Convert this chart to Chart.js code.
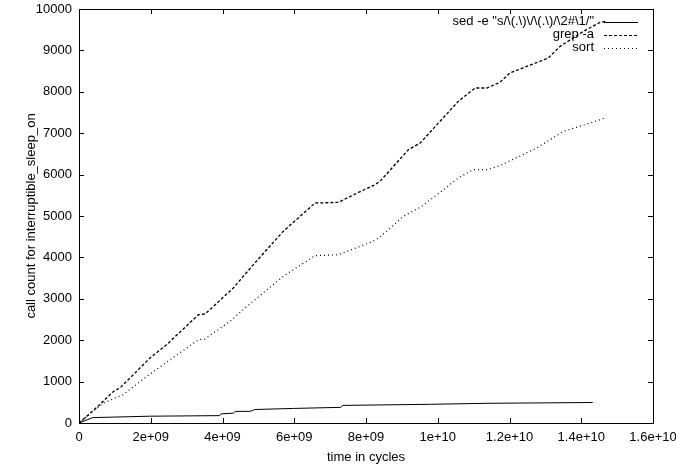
<!DOCTYPE html>
<html>
<head>
<meta charset="utf-8">
<script src="https://cdn.jsdelivr.net/npm/chart.js@4.4.1/dist/chart.umd.min.js"></script>
<style>
  html, body { margin: 0; padding: 0; background: #fff; }
  #wrap { width: 676px; height: 467px; }
</style>
</head>
<body>
<div id="wrap"><canvas id="myChart" width="676" height="467"></canvas></div>
<script>
const seriesLabels = ['sed -e "s/\\(.\\)\\/\\(.\\)/\\2#\\1/"', "grep -a", "sort"];

const sedX = [0, 0.38e9, 1.96e9, 3.92e9, 3.96e9, 4.3e9, 4.36e9, 4.78e9, 4.9e9, 5.98e9, 7.3e9, 7.35e9, 9.8e9, 11.4e9, 14.32e9];
const sedY = [0, 130, 164, 178, 220, 238, 279, 282, 326, 352, 378, 425, 452, 476, 495];

const grepX = [0, 0.5e9, 0.96e9, 1.14e9, 1.98e9, 2.44e9, 3.33e9, 3.51e9, 3.7e9, 4.3e9, 4.86e9, 5.69e9, 6.58e9, 7.23e9, 7.79e9, 8.2e9, 8.39e9, 9.18e9, 9.51e9, 10.57e9, 11.04e9, 11.37e9, 11.73e9, 12.01e9, 13.08e9, 13.41e9, 14.06e9, 14.52e9, 14.68e9];
const grepY = [0, 380, 763, 845, 1570, 1890, 2616, 2633, 2778, 3261, 3824, 4628, 5314, 5329, 5570, 5732, 5836, 6601, 6763, 7768, 8092, 8092, 8227, 8454, 8816, 9097, 9459, 9676, 9700];

const sortX = [0, 0.68e9, 1.23e9, 1.89e9, 2.54e9, 3.33e9, 3.51e9, 4.21e9, 4.63e9, 5.69e9, 6.58e9, 7.23e9, 7.79e9, 8.2e9, 8.39e9, 9.04e9, 9.55e9, 10.16e9, 10.57e9, 10.99e9, 11.37e9, 11.73e9, 12.76e9, 13.5e9, 14.25e9, 14.66e9];
const sortY = [0, 483, 684, 1126, 1529, 2012, 2029, 2454, 2778, 3541, 4041, 4065, 4251, 4390, 4493, 4990, 5232, 5635, 5918, 6118, 6118, 6215, 6643, 7044, 7246, 7367];

const xTicks = [0, 2e9, 4e9, 6e9, 8e9, 1e10, 1.2e10, 1.4e10, 1.6e10];
const yTicks = [0, 1000, 2000, 3000, 4000, 5000, 6000, 7000, 8000, 9000, 10000];

const toPoints = (xs, ys) => xs.map((x, i) => ({ x, y: ys[i] }));

// gnuplot style exponent: 2e+09, 1.2e+10
const fmtExp = (v) => {
  if (v === 0) return "0";
  const [m, e] = v.toExponential().split("e");
  return m + "e" + e[0] + e.slice(1).padStart(2, "0");
};

Chart.defaults.font.family = "'Liberation Sans', Arial, sans-serif";
Chart.defaults.font.size = 13;
Chart.defaults.color = "#000";

// box + inward ticks on all four sides
const gnuplotFrame = {
  id: "gnuplotFrame",
  afterDatasetsDraw: (chart) => {
    const { ctx, chartArea: { top, bottom, left, right }, scales: { x, y } } = chart;
    ctx.save();
    ctx.strokeStyle = "#000";
    ctx.lineWidth = 1;
    ctx.beginPath();
    xTicks.forEach((v) => {
      const px = Math.round(x.getPixelForValue(v)) + 0.5;
      ctx.moveTo(px, bottom);
      ctx.lineTo(px, bottom - 5);
      ctx.moveTo(px, top);
      ctx.lineTo(px, top + 5);
    });
    yTicks.forEach((v) => {
      const py = Math.round(y.getPixelForValue(v)) + 0.5;
      ctx.moveTo(left, py);
      ctx.lineTo(left + 5, py);
      ctx.moveTo(right, py);
      ctx.lineTo(right - 5, py);
    });
    ctx.stroke();
    ctx.strokeRect(Math.round(left) + 0.5, Math.round(top) + 0.5, Math.round(right - left), Math.round(bottom - top));
    ctx.restore();
  },
};

// legend top right, text right aligned, sample to the right
const keyBox = {
  id: "keyBox",
  afterDatasetsDraw: (chart) => {
    const { ctx, chartArea: { top, right } } = chart;
    const textEnd = right - 59;
    ctx.save();
    ctx.font = "13px 'Liberation Sans', Arial, sans-serif";
    ctx.textAlign = "right";
    ctx.textBaseline = "middle";
    ctx.fillStyle = "#000";
    chart.data.datasets.forEach((ds, i) => {
      const yy = top + 12.5 + i * 13;
      ctx.fillText(ds.label, textEnd, yy);
      ctx.strokeStyle = "#000";
      ctx.lineWidth = 1;
      ctx.setLineDash(ds.borderDash || []);
      ctx.beginPath();
      ctx.moveTo(textEnd + 10, Math.round(yy) + 0.5);
      ctx.lineTo(textEnd + 44, Math.round(yy) + 0.5);
      ctx.stroke();
    });
    ctx.restore();
  },
};

const lineStyle = { borderColor: "#000", borderWidth: 1, pointRadius: 0, showLine: true, fill: false, tension: 0 };

const config = {
  type: "scatter",
  data: {
    datasets: [
      { label: seriesLabels[0], data: toPoints(sedX, sedY), ...lineStyle, borderDash: [] },
      { label: seriesLabels[1], data: toPoints(grepX, grepY), ...lineStyle, borderWidth: 1.3, borderDash: [3, 2] },
      { label: seriesLabels[2], data: toPoints(sortX, sortY), ...lineStyle, borderWidth: 1.2, borderDash: [1, 3] },
    ],
  },
  options: {
    responsive: false,
    animation: false,
    layout: { padding: { top: 9, right: 23, left: 0, bottom: 0 } },
    plugins: { legend: { display: false }, tooltip: { enabled: false } },
    scales: {
      x: {
        type: "linear",
        min: 0,
        max: 1.6e10,
        afterBuildTicks: (scale) => { scale.ticks = xTicks.map((v) => ({ value: v })); },
        afterFit: (scale) => {
          scale.height = 44;
          scale.paddingLeft = 0;
          scale.paddingRight = 0;
        },
        ticks: { callback: (v) => fmtExp(v), padding: 7, maxRotation: 0, autoSkip: false },
        grid: { drawOnChartArea: false, drawTicks: false },
        border: { display: false },
        title: { display: true, text: "time in cycles", padding: { top: 0, bottom: 2 } },
      },
      y: {
        type: "linear",
        min: 0,
        max: 10000,
        afterBuildTicks: (scale) => { scale.ticks = yTicks.map((v) => ({ value: v })); },
        afterFit: (scale) => {
          scale.width = 79;
          scale.paddingTop = 0;
          scale.paddingBottom = 0;
        },
        ticks: { callback: (v) => String(v), padding: 7, autoSkip: false },
        grid: { drawOnChartArea: false, drawTicks: false },
        border: { display: false },
        title: { display: true, text: "call count for interruptible_sleep_on", padding: { top: 24, bottom: 0 } },
      },
    },
  },
  plugins: [gnuplotFrame, keyBox],
};

const myChart = new Chart(document.getElementById("myChart"), config);
</script>
</body>
</html>
